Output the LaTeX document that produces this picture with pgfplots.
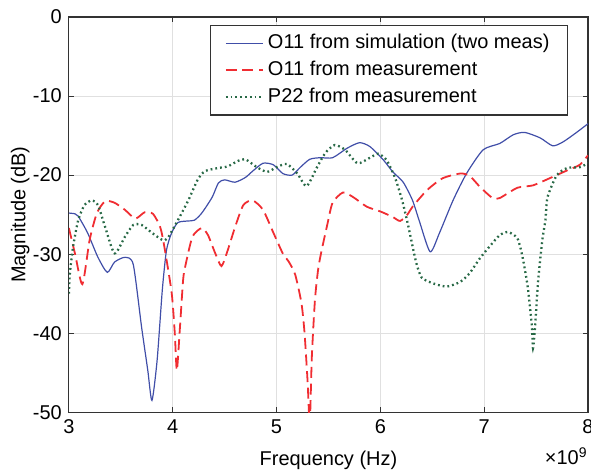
\documentclass[border=0pt]{standalone}
\usepackage{pgfplots}
\pgfplotsset{compat=1.18}
\usetikzlibrary{calc}
\usepackage{fontspec}
\setmainfont{Liberation Sans}
\definecolor{simblue}{RGB}{64,78,168}
\definecolor{measred}{RGB}{240,45,50}
\definecolor{measgreen}{RGB}{40,105,70}
\begin{document}
\begin{tikzpicture}
\begin{axis}[
  scale only axis,
  width=260pt, height=198pt,
  xmin=3, xmax=8, ymin=-50, ymax=0,
  xtick={3,4,5,6,7,8}, ytick={-50,-40,-30,-20,-10,0},
  tick pos=both, tick align=inside, major tick length=2.5pt,
  grid=major,
  major grid style={draw=black!12, line width=0.5pt},
  axis line style={draw=black!80, line width=0.6pt},
  every tick/.style={draw=black!80},
  font=\fontsize{10}{12}\selectfont,
  /pgf/number format/assume math mode=true,
  ticklabel style={font=\fontsize{10}{12}\selectfont},
  xlabel={Frequency (Hz)}, ylabel={Magnitude (dB)},
  xlabel style={at={(axis description cs:0.5,-0.121)}, anchor=center},
  ylabel style={at={(axis description cs:-0.094,0.5)}, anchor=center},
  legend style={at={(axis description cs:0.9615,0.98)}, anchor=north east,
    draw=black!80, line width=0.6pt, font=\fontsize{10}{12}\selectfont,
    row sep=0.8pt, inner xsep=7pt, inner ysep=2.5pt},
  legend image code/.code={\draw[#1] (0pt,0pt) -- (18.5pt,0pt);},
  legend cell align=left,
  clip mode=individual,
]
\addplot[draw=simblue, line width=0.6pt, smooth, tension=0.4] coordinates {
(3.00,-24.8) (3.06,-24.9) (3.09,-25.2) (3.18,-27.3) (3.28,-30.4) (3.37,-32.3)
(3.44,-31.0) (3.54,-30.4) (3.62,-31.3) (3.70,-39.2) (3.76,-44.7) (3.80,-48.5)
(3.85,-43.4) (3.90,-34.5) (3.94,-29.5) (3.99,-27.3) (4.05,-26.0) (4.15,-25.8)
(4.21,-25.7) (4.28,-24.8) (4.38,-22.8) (4.44,-21.0) (4.50,-20.6) (4.60,-20.9)
(4.70,-20.3) (4.77,-19.5) (4.87,-18.5) (4.97,-18.7) (5.06,-19.8) (5.15,-20.0)
(5.23,-19.0) (5.32,-18.0) (5.42,-17.8) (5.54,-17.8) (5.68,-16.6) (5.80,-15.9)
(5.90,-16.4) (6.03,-18.1) (6.12,-19.6) (6.22,-20.9) (6.31,-23.2) (6.38,-26.0)
(6.48,-29.7) (6.57,-27.3) (6.70,-23.2) (6.83,-19.8) (6.99,-16.8) (7.15,-16.0)
(7.28,-14.9) (7.39,-14.6) (7.54,-15.3) (7.66,-16.3) (7.76,-15.8) (7.89,-14.6)
(8.00,-13.5)};
\addlegendentry{O11 from simulation (two meas)}
\addplot[draw=measred, line width=0.9pt, dash pattern=on 5.5pt off 2.8pt, smooth, tension=0.4] coordinates {
(3.00,-26.7) (3.06,-30.0) (3.13,-33.8) (3.20,-28.2) (3.27,-24.8) (3.35,-23.3)
(3.44,-23.5) (3.54,-24.4) (3.64,-25.5) (3.73,-24.7) (3.81,-24.9) (3.88,-26.6)
(3.92,-29.1) (3.99,-34.9) (4.02,-40.0) (4.04,-44.7) (4.07,-39.2) (4.10,-33.3)
(4.12,-31.6) (4.19,-27.8) (4.28,-26.7) (4.34,-27.6) (4.41,-29.9) (4.47,-31.5)
(4.53,-29.5) (4.60,-26.6) (4.68,-23.8) (4.77,-23.2) (4.87,-24.4) (4.97,-27.3)
(5.06,-29.9) (5.12,-31.0) (5.18,-32.6) (5.24,-36.2) (5.27,-40.0) (5.30,-46.3)
(5.32,-51.5) (5.34,-43.0) (5.37,-35.8) (5.40,-32.0) (5.43,-29.8) (5.49,-26.2)
(5.54,-23.5) (5.64,-22.2) (5.74,-22.8) (5.87,-24.0) (6.00,-24.6) (6.12,-25.3)
(6.19,-25.8) (6.26,-25.0) (6.31,-24.0) (6.45,-21.9) (6.60,-20.4) (6.77,-19.8)
(6.86,-20.1) (6.96,-21.5) (7.08,-22.9) (7.15,-22.9) (7.32,-21.6) (7.47,-21.3)
(7.63,-20.4) (7.80,-19.4) (7.92,-18.7) (8.00,-17.5)};
\addlegendentry{O11 from measurement}
\addplot[draw=measgreen, line width=1.15pt, dash pattern=on 0.9pt off 1.5pt, smooth, tension=0.4] coordinates {
(3.00,-35.0) (3.01,-32.4) (3.04,-29.1) (3.09,-25.7) (3.15,-23.8) (3.22,-23.2)
(3.28,-23.8) (3.35,-26.6) (3.44,-29.9) (3.54,-27.8) (3.62,-26.3) (3.70,-26.3)
(3.80,-27.3) (3.90,-28.2) (3.95,-28.0) (4.05,-25.7) (4.15,-23.2) (4.24,-20.6)
(4.31,-19.5) (4.44,-19.1) (4.53,-18.9) (4.63,-18.2) (4.70,-18.0) (4.81,-19.0)
(4.91,-19.6) (5.00,-19.0) (5.10,-18.6) (5.20,-19.8) (5.29,-21.4) (5.39,-19.0)
(5.47,-17.2) (5.56,-16.2) (5.66,-16.8) (5.78,-18.5) (5.90,-17.8) (5.98,-17.3)
(6.06,-18.1) (6.14,-20.3) (6.21,-23.2) (6.27,-26.5) (6.31,-29.0) (6.35,-31.3)
(6.40,-33.0) (6.51,-33.7) (6.64,-34.1) (6.77,-33.5) (6.86,-32.4) (6.96,-30.5)
(7.06,-28.9) (7.15,-27.6) (7.23,-27.2) (7.32,-28.0) (7.37,-30.4) (7.42,-34.2)
(7.46,-39.2) (7.47,-41.9) (7.49,-39.2) (7.52,-33.3) (7.56,-28.2) (7.59,-25.7)
(7.61,-22.8) (7.70,-20.0) (7.80,-19.1) (7.92,-19.0) (8.00,-18.5)};
\addlegendentry{P22 from measurement}
\node[anchor=north east, inner sep=0pt, font=\fontsize{10}{12}\selectfont] at (axis description cs:1,-0.088) {×10\textsuperscript{9}};
\end{axis}
\pgfresetboundingbox
\path ($(current axis.south west)+(-34.5pt,-30pt)$) rectangle ($(current axis.north east)+(1.5pt,8.5pt)$);
\end{tikzpicture}
\end{document}
